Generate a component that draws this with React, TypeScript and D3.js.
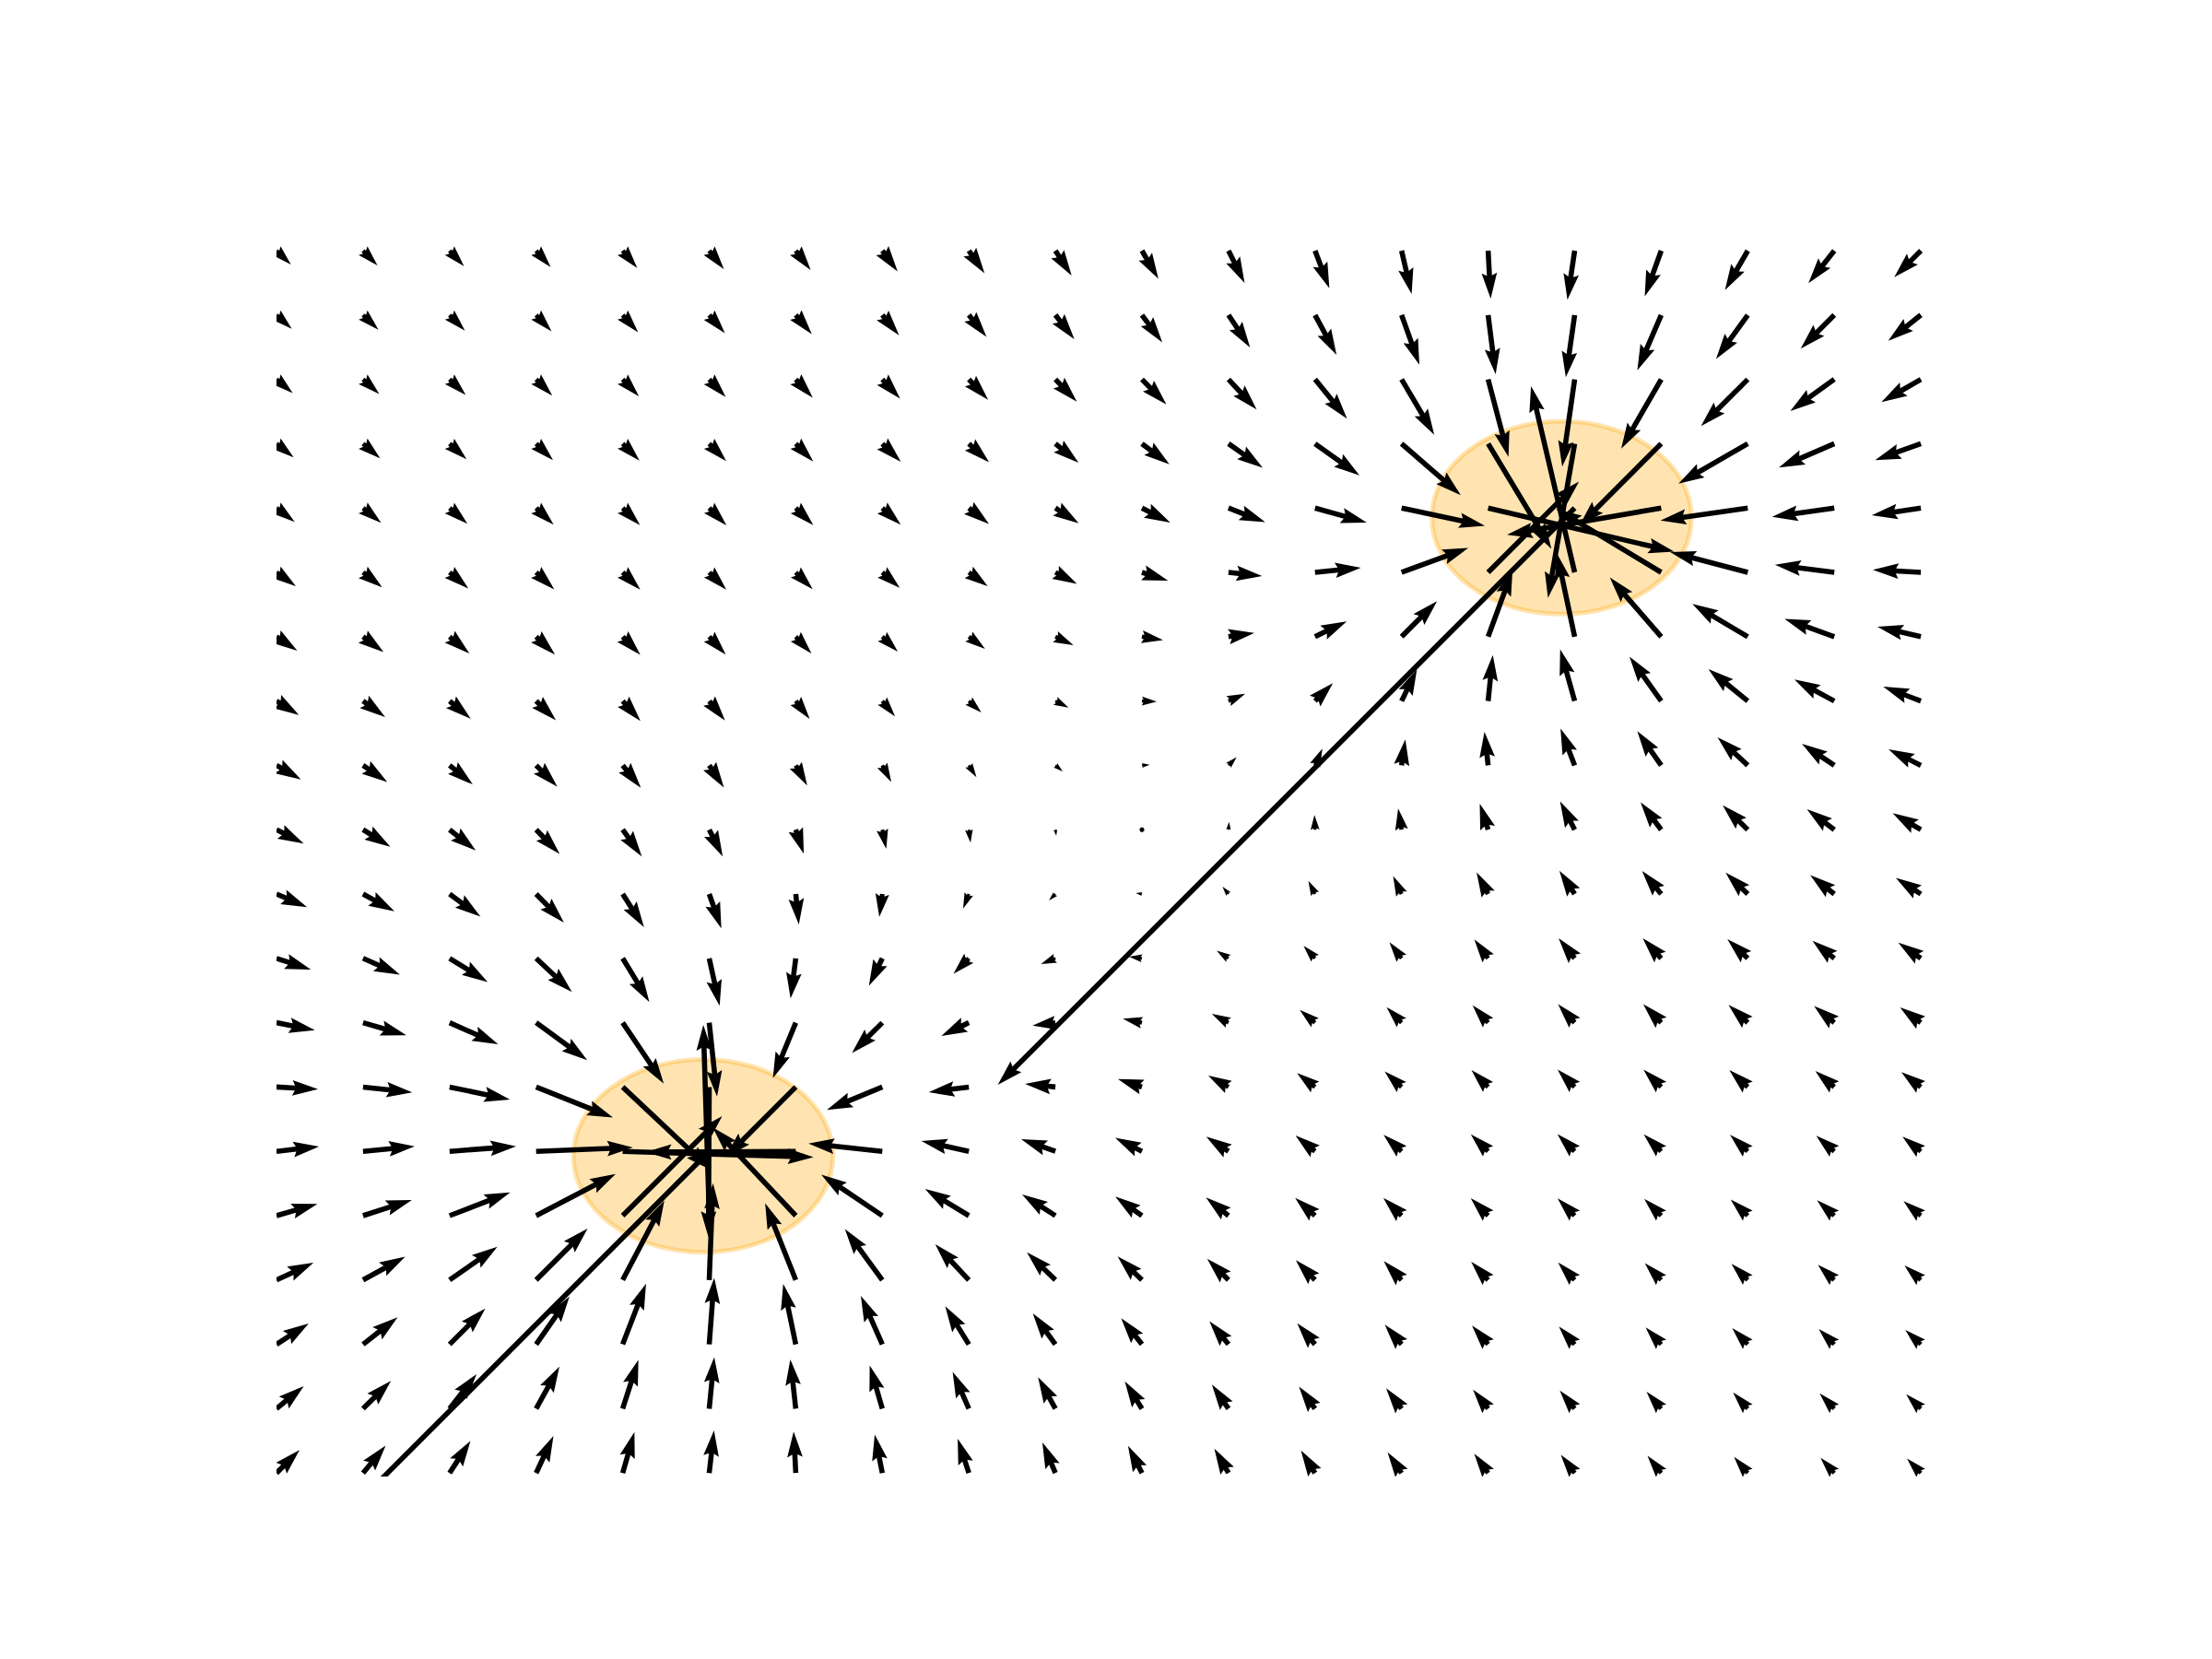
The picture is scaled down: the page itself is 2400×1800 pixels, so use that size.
import React from 'react';
import * as d3 from 'd3';

// grid of the vector field (same values on both axes)
const gridX = [-2.0, -1.8, -1.6, -1.4, -1.2, -1.0, -0.8, -0.6, -0.4, -0.2, 0.0, 0.2, 0.4, 0.6, 0.8, 1.0, 1.2, 1.4, 1.6, 1.8];
const gridY = [-2.0, -1.8, -1.6, -1.4, -1.2, -1.0, -0.8, -0.6, -0.4, -0.2, 0.0, 0.2, 0.4, 0.6, 0.8, 1.0, 1.2, 1.4, 1.6, 1.8];

// the two wells (orange circles)
const wellX = [-1.014, 0.97];
const wellY = [-1.014, 0.97];
const wellRadius = 0.3;

// U[k][i] / V[k][i]: vector at (gridX[i], gridY[k]); rows run bottom -> top
const U = [
  [0.27, 0.265, 0.245, 0.203, 0.138, 0.056, -0.025, -0.089, -0.131, -0.153, -0.163, -0.166, -0.165, -0.164, -0.163, -0.162, -0.161, -0.161, -0.161, -0.162],
  [0.32, 0.327, 0.316, 0.273, 0.184, 0.059, -0.064, -0.148, -0.19, -0.203, -0.201, -0.195, -0.188, -0.181, -0.177, -0.174, -0.172, -0.172, -0.172, -0.172],
  [0.377, 0.405, 0.419, 0.391, 0.274, 0.059, -0.147, -0.252, -0.277, -0.265, -0.244, -0.224, -0.209, -0.197, -0.189, -0.185, -0.183, -0.182, -0.182, -0.182],
  [0.434, 0.494, 0.56, 0.603, 0.489, 0.045, -0.359, -0.439, -0.394, -0.334, -0.285, -0.25, -0.225, -0.209, -0.199, -0.194, -0.192, -0.191, -0.192, -0.192],
  [0.48, 0.572, 0.711, 0.933, 1.167, -0.069, -0.974, -0.716, -0.514, -0.39, -0.313, -0.264, -0.233, -0.214, -0.204, -0.2, -0.199, -0.2, -0.202, -0.203],
  [0.499, 0.605, 0.78, 1.135, 2.239, -14.19, -1.76, -0.866, -0.556, -0.402, -0.314, -0.261, -0.229, -0.211, -0.203, -0.202, -0.204, -0.208, -0.212, -0.215],
  [0.487, 0.577, 0.708, 0.901, 1.036, -0.009, -0.822, -0.65, -0.471, -0.356, -0.282, -0.237, -0.211, -0.198, -0.196, -0.2, -0.208, -0.216, -0.223, -0.228],
  [0.45, 0.508, 0.569, 0.599, 0.482, 0.092, -0.268, -0.356, -0.322, -0.268, -0.224, -0.195, -0.179, -0.176, -0.182, -0.195, -0.211, -0.226, -0.237, -0.244],
  [0.403, 0.432, 0.447, 0.42, 0.313, 0.122, -0.061, -0.157, -0.18, -0.169, -0.151, -0.138, -0.134, -0.143, -0.162, -0.188, -0.216, -0.239, -0.256, -0.265],
  [0.358, 0.368, 0.362, 0.326, 0.25, 0.142, 0.036, -0.035, -0.067, -0.075, -0.072, -0.07, -0.078, -0.099, -0.135, -0.179, -0.224, -0.26, -0.282, -0.293],
  [0.319, 0.32, 0.307, 0.276, 0.224, 0.158, 0.094, 0.046, 0.02, 0.01, 0.009, 0.007, -0.007, -0.04, -0.098, -0.171, -0.242, -0.294, -0.321, -0.33],
  [0.287, 0.284, 0.272, 0.248, 0.213, 0.172, 0.134, 0.105, 0.089, 0.086, 0.091, 0.095, 0.086, 0.044, -0.043, -0.166, -0.281, -0.354, -0.38, -0.379],
  [0.263, 0.259, 0.248, 0.232, 0.209, 0.185, 0.163, 0.149, 0.146, 0.154, 0.173, 0.196, 0.209, 0.18, 0.055, -0.17, -0.372, -0.461, -0.467, -0.441],
  [0.243, 0.24, 0.232, 0.221, 0.207, 0.194, 0.184, 0.182, 0.19, 0.211, 0.248, 0.303, 0.371, 0.416, 0.287, -0.208, -0.603, -0.649, -0.583, -0.509],
  [0.227, 0.224, 0.22, 0.213, 0.206, 0.2, 0.198, 0.204, 0.221, 0.253, 0.306, 0.394, 0.538, 0.783, 1.066, -0.512, -1.233, -0.91, -0.695, -0.563],
  [0.213, 0.212, 0.209, 0.205, 0.203, 0.202, 0.205, 0.216, 0.236, 0.273, 0.332, 0.431, 0.606, 0.977, 2.183, -6.766, -1.809, -1.024, -0.73, -0.575],
  [0.201, 0.2, 0.199, 0.198, 0.197, 0.199, 0.205, 0.217, 0.237, 0.271, 0.322, 0.401, 0.521, 0.694, 0.743, -0.313, -0.96, -0.813, -0.649, -0.536],
  [0.19, 0.19, 0.189, 0.189, 0.19, 0.193, 0.199, 0.209, 0.226, 0.251, 0.286, 0.33, 0.375, 0.383, 0.239, -0.146, -0.469, -0.548, -0.516, -0.462],
  [0.179, 0.18, 0.18, 0.18, 0.181, 0.184, 0.188, 0.196, 0.207, 0.222, 0.239, 0.253, 0.252, 0.209, 0.088, -0.104, -0.28, -0.372, -0.394, -0.382],
  [0.169, 0.169, 0.169, 0.17, 0.17, 0.172, 0.175, 0.179, 0.184, 0.19, 0.193, 0.189, 0.168, 0.118, 0.03, -0.085, -0.193, -0.267, -0.303, -0.312],
];

const V = [
  [0.27, 0.32, 0.377, 0.434, 0.48, 0.499, 0.487, 0.45, 0.403, 0.358, 0.319, 0.287, 0.263, 0.243, 0.227, 0.213, 0.201, 0.19, 0.179, 0.169],
  [0.265, 0.327, 0.405, 0.494, 0.572, 0.605, 0.577, 0.508, 0.432, 0.368, 0.32, 0.284, 0.259, 0.24, 0.224, 0.212, 0.2, 0.19, 0.18, 0.169],
  [0.245, 0.316, 0.419, 0.56, 0.711, 0.78, 0.708, 0.569, 0.447, 0.362, 0.307, 0.272, 0.248, 0.232, 0.22, 0.209, 0.199, 0.189, 0.18, 0.169],
  [0.203, 0.273, 0.391, 0.603, 0.933, 1.135, 0.901, 0.599, 0.42, 0.326, 0.276, 0.248, 0.232, 0.221, 0.213, 0.205, 0.198, 0.189, 0.18, 0.17],
  [0.138, 0.184, 0.274, 0.489, 1.167, 2.239, 1.036, 0.482, 0.313, 0.25, 0.224, 0.213, 0.209, 0.207, 0.206, 0.203, 0.197, 0.19, 0.181, 0.17],
  [0.056, 0.059, 0.059, 0.045, -0.069, -14.19, -0.009, 0.092, 0.122, 0.142, 0.158, 0.172, 0.185, 0.194, 0.2, 0.202, 0.199, 0.193, 0.184, 0.172],
  [-0.025, -0.064, -0.147, -0.359, -0.974, -1.76, -0.822, -0.268, -0.061, 0.036, 0.094, 0.134, 0.163, 0.184, 0.198, 0.205, 0.205, 0.199, 0.188, 0.175],
  [-0.089, -0.148, -0.252, -0.439, -0.716, -0.866, -0.65, -0.356, -0.157, -0.035, 0.046, 0.105, 0.149, 0.182, 0.204, 0.216, 0.217, 0.209, 0.196, 0.179],
  [-0.131, -0.19, -0.277, -0.394, -0.514, -0.556, -0.471, -0.322, -0.18, -0.067, 0.02, 0.089, 0.146, 0.19, 0.221, 0.236, 0.237, 0.226, 0.207, 0.184],
  [-0.153, -0.203, -0.265, -0.334, -0.39, -0.402, -0.356, -0.268, -0.169, -0.075, 0.01, 0.086, 0.154, 0.211, 0.253, 0.273, 0.271, 0.251, 0.222, 0.19],
  [-0.163, -0.201, -0.244, -0.285, -0.313, -0.314, -0.282, -0.224, -0.151, -0.072, 0.009, 0.091, 0.173, 0.248, 0.306, 0.332, 0.322, 0.286, 0.239, 0.193],
  [-0.166, -0.195, -0.224, -0.25, -0.264, -0.261, -0.237, -0.195, -0.138, -0.07, 0.007, 0.095, 0.196, 0.303, 0.394, 0.431, 0.401, 0.33, 0.253, 0.189],
  [-0.165, -0.188, -0.209, -0.225, -0.233, -0.229, -0.211, -0.179, -0.134, -0.078, -0.007, 0.086, 0.209, 0.371, 0.538, 0.606, 0.521, 0.375, 0.252, 0.168],
  [-0.164, -0.181, -0.197, -0.209, -0.214, -0.211, -0.198, -0.176, -0.143, -0.099, -0.04, 0.044, 0.18, 0.416, 0.783, 0.977, 0.694, 0.383, 0.209, 0.118],
  [-0.163, -0.177, -0.189, -0.199, -0.204, -0.203, -0.196, -0.182, -0.162, -0.135, -0.098, -0.043, 0.055, 0.287, 1.066, 2.183, 0.743, 0.239, 0.088, 0.03],
  [-0.162, -0.174, -0.185, -0.194, -0.2, -0.202, -0.2, -0.195, -0.188, -0.179, -0.171, -0.166, -0.17, -0.208, -0.512, -6.766, -0.313, -0.146, -0.104, -0.085],
  [-0.161, -0.172, -0.183, -0.192, -0.199, -0.204, -0.208, -0.211, -0.216, -0.224, -0.242, -0.281, -0.372, -0.603, -1.233, -1.809, -0.96, -0.469, -0.28, -0.193],
  [-0.161, -0.172, -0.182, -0.191, -0.2, -0.208, -0.216, -0.226, -0.239, -0.26, -0.294, -0.354, -0.461, -0.649, -0.91, -1.024, -0.813, -0.548, -0.372, -0.267],
  [-0.161, -0.172, -0.182, -0.192, -0.202, -0.212, -0.223, -0.237, -0.256, -0.282, -0.321, -0.38, -0.467, -0.583, -0.695, -0.73, -0.649, -0.516, -0.394, -0.303],
  [-0.162, -0.172, -0.182, -0.192, -0.203, -0.215, -0.228, -0.244, -0.265, -0.293, -0.33, -0.379, -0.441, -0.509, -0.563, -0.575, -0.536, -0.462, -0.382, -0.312],
];

const WIDTH = 2400;
const HEIGHT = 1800;
// axes box (matplotlib default subplot position)
const axLeft = 300;
const axRight = 2160;
const axTop = 216;
const axBottom = 1602;

const SHAFT = 5.58; // arrow shaft width, px
const PX_PER_UNIT = 92.5; // arrow length scale

const xScale = d3.scaleLinear().domain([-2, 1.8]).range([300, 2084.1]);
const yScale = d3.scaleLinear().domain([-2, 1.8]).range([1598.2, 272]);

// quiver-style arrow outline in shaft-width units
function arrowShape(len: number): [number, number][] {
  if (len < 1) {
    const pts: [number, number][] = [];
    for (let k = 0; k < 6; k++) {
      const th = (k * Math.PI) / 3;
      pts.push([0.5 * Math.cos(th), 0.5 * Math.sin(th)]);
    }
    return pts;
  }
  if (len < 5) {
    const s = len / 5;
    return [[0, 0.5], [0.5, 0.5], [0, 1.5], [5, 0], [0, -1.5], [0.5, -0.5], [0, -0.5]].map(
      ([a, b]) => [a * s, b * s] as [number, number]
    );
  }
  return [[0, 0.5], [len - 4.5, 0.5], [len - 5, 1.5], [len, 0], [len - 5, -1.5], [len - 4.5, -0.5], [0, -0.5]];
}

function arrowPath(x0: number, y0: number, u: number, v: number): string {
  const len = (Math.hypot(u, v) * PX_PER_UNIT) / SHAFT;
  const th = Math.atan2(-v, u);
  const c = Math.cos(th);
  const s = Math.sin(th);
  const pts = arrowShape(len).map(([a, b]) => [
    x0 + SHAFT * (a * c - b * s),
    y0 + SHAFT * (a * s + b * c),
  ] as [number, number]);
  return (d3.line()(pts) || '') + 'Z';
}

const App: React.FC = () => {
  const arrows: { key: string; d: string }[] = [];
  gridY.forEach((gy, k) => {
    gridX.forEach((gx, i) => {
      arrows.push({ key: `${k}-${i}`, d: arrowPath(xScale(gx), yScale(gy), U[k][i], V[k][i]) });
    });
  });

  const rx = xScale(wellRadius) - xScale(0);
  const ry = yScale(0) - yScale(wellRadius);

  return (
    <svg
      width={WIDTH}
      height={HEIGHT}
      style={{ position: 'absolute', left: 0, top: 0, background: '#ffffff' }}
    >
      <defs>
        <clipPath id="axes-clip">
          <rect x={axLeft} y={axTop} width={axRight - axLeft} height={axBottom - axTop} />
        </clipPath>
      </defs>
      <rect x={0} y={0} width={WIDTH} height={HEIGHT} fill="#ffffff" />
      <g clipPath="url(#axes-clip)">
        {wellX.map((wx, n) => (
          <ellipse
            key={`well-${n}`}
            cx={xScale(wx)}
            cy={yScale(wellY[n])}
            rx={rx}
            ry={ry}
            fill="orange"
            fillOpacity={0.3}
            stroke="orange"
            strokeOpacity={0.3}
            strokeWidth={5}
          />
        ))}
        {arrows.map(a => (
          <path key={a.key} d={a.d} fill="#000000" />
        ))}
      </g>
    </svg>
  );
};

export default App;
